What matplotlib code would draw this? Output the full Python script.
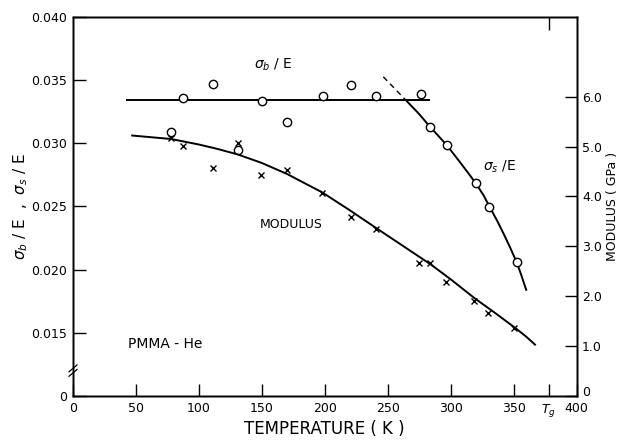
import matplotlib
matplotlib.use("Agg")
import matplotlib.pyplot as plt

# sigma/E circles (left axis)
sb_temp = [87.6, 111.5, 150, 170, 198.5, 220.5, 241, 276.5]
sb_ratio = [0.03354, 0.03465, 0.03331, 0.03165, 0.03375, 0.03462, 0.03373, 0.03388]
ss_temp = [78, 131, 283.5, 297, 320, 330.5, 352.5]
ss_ratio = [0.03090, 0.02946, 0.03130, 0.02983, 0.02682, 0.02495, 0.02057]

# drawn curves
sb_line_temp = [43, 283]
sb_line_ratio = [0.03341, 0.03341]
ss_curve_temp = [265.6, 275, 283.6, 290, 297, 307.4, 315, 320, 326, 330.5, 337, 342, 347, 352.5, 356, 360]
ss_curve_ratio = [0.03328, 0.03230, 0.03130, 0.03060, 0.02983, 0.02850, 0.02750, 0.02682,
                  0.02590, 0.02505, 0.02385, 0.02285, 0.02180, 0.02057, 0.01960, 0.01840]
ss_dash_temp = [246.5, 265.6]
ss_dash_ratio = [0.03525, 0.03328]

# modulus (right axis, GPa)
mod_temp = [78, 87, 111.5, 131, 149.5, 170, 198, 220.5, 240.5, 275, 283.5, 296, 318.5, 330, 350.5]
mod_gpa = [5.17, 5.01, 4.56, 5.08, 4.42, 4.53, 4.07, 3.59, 3.34, 2.66, 2.66, 2.29, 1.91, 1.67, 1.36]
mod_curve_temp = [47, 78, 100, 115, 131, 150, 170, 198, 220, 240, 262, 284, 300, 319, 335, 351, 360, 367]
mod_curve_gpa = [5.22, 5.15, 5.04, 4.95, 4.84, 4.67, 4.45, 4.08, 3.72, 3.38, 3.01, 2.64, 2.34, 1.96,
                 1.67, 1.37, 1.19, 1.03]

x_ticks = [0, 50, 100, 150, 200, 250, 300, 350, 378, 400]
x_labels = ["0", "50", "100", "150", "200", "250", "300", "350", "$T_g$", "400"]
left_ticks = [0.010, 0.015, 0.020, 0.025, 0.030, 0.035, 0.040]
left_labels = ["0", "0.015", "0.020", "0.025", "0.030", "0.035", "0.040"]
right_ticks = [0, 1, 2, 3, 4, 5, 6]
right_labels = ["0", "1.0", "2.0", "3.0", "4.0", "5.0", "6.0"]

fig = plt.figure(figsize=(6.22, 4.41), dpi=100)
ax = fig.add_axes([0.1174, 0.102, 0.8095, 0.860])
ax2 = ax.twinx()

lw = 1.4
ax.plot(sb_line_temp, sb_line_ratio, color="black", lw=lw)
ax.plot(ss_curve_temp, ss_curve_ratio, color="black", lw=lw)
ax.plot(ss_dash_temp, ss_dash_ratio, color="black", lw=1.0, ls=(0, (4, 3)))
ax.plot(sb_temp, sb_ratio, "o", ms=6, mfc="white", mec="black", mew=1.0, zorder=5)
ax.plot(ss_temp, ss_ratio, "o", ms=6, mfc="white", mec="black", mew=1.0, zorder=5)

ax2.plot(mod_curve_temp, mod_curve_gpa, color="black", lw=lw)
ax2.plot(mod_temp, mod_gpa, "x", ms=4, color="black", mew=1.0, zorder=5)

ax.set_xlim(0, 400)
ax.set_ylim(0.010, 0.040)
ax2.set_ylim(0, 7.6)

ax.set_xticks(x_ticks)
ax.set_xticklabels(x_labels)
ax.set_yticks(left_ticks)
ax.set_yticklabels(left_labels)
ax2.set_yticks(right_ticks)
ax2.set_yticklabels(right_labels)
ax2.get_yticklabels()[0].set_va("baseline")

ax.tick_params(axis="both", direction="in", length=9, width=1, labelsize=9, pad=4)
ax.tick_params(axis="y", right=False)
ax2.tick_params(axis="y", direction="in", length=9, width=1, labelsize=9, pad=4)

# Tg marker on the top edge
top = ax.twiny()
top.set_xlim(0, 400)
top.set_xticks([378])
top.set_xticklabels([])
top.tick_params(direction="in", length=9, width=1)

for a in (ax, ax2, top):
    for s in a.spines.values():
        s.set_linewidth(1.0)

# axis break on the left spine
for dy in (0.0, 0.012):
    ax.plot([-0.008, 0.008], [0.052 + dy, 0.070 + dy], transform=ax.transAxes,
            color="black", lw=0.9, clip_on=False, zorder=6)

ax.set_xlabel("TEMPERATURE ( K )", fontsize=12, labelpad=1)
ax.set_ylabel(r"$\sigma_b$ / E  ,  $\sigma_s$ / E", fontsize=11, labelpad=1)
ax2.set_ylabel("MODULUS ( GPa )", fontsize=9, labelpad=3)

ax.text(159, 0.0362, r"$\sigma_b$ / E", fontsize=10, ha="center", va="center")
ax.text(338.5, 0.02813, r"$\sigma_s$ /E", fontsize=10, ha="center", va="center")
ax.text(173, 0.02358, "MODULUS", fontsize=9, ha="center", va="center")
ax.text(73, 0.01411, "PMMA - He", fontsize=10, ha="center", va="center")

fig.savefig("out.png", dpi=100)
